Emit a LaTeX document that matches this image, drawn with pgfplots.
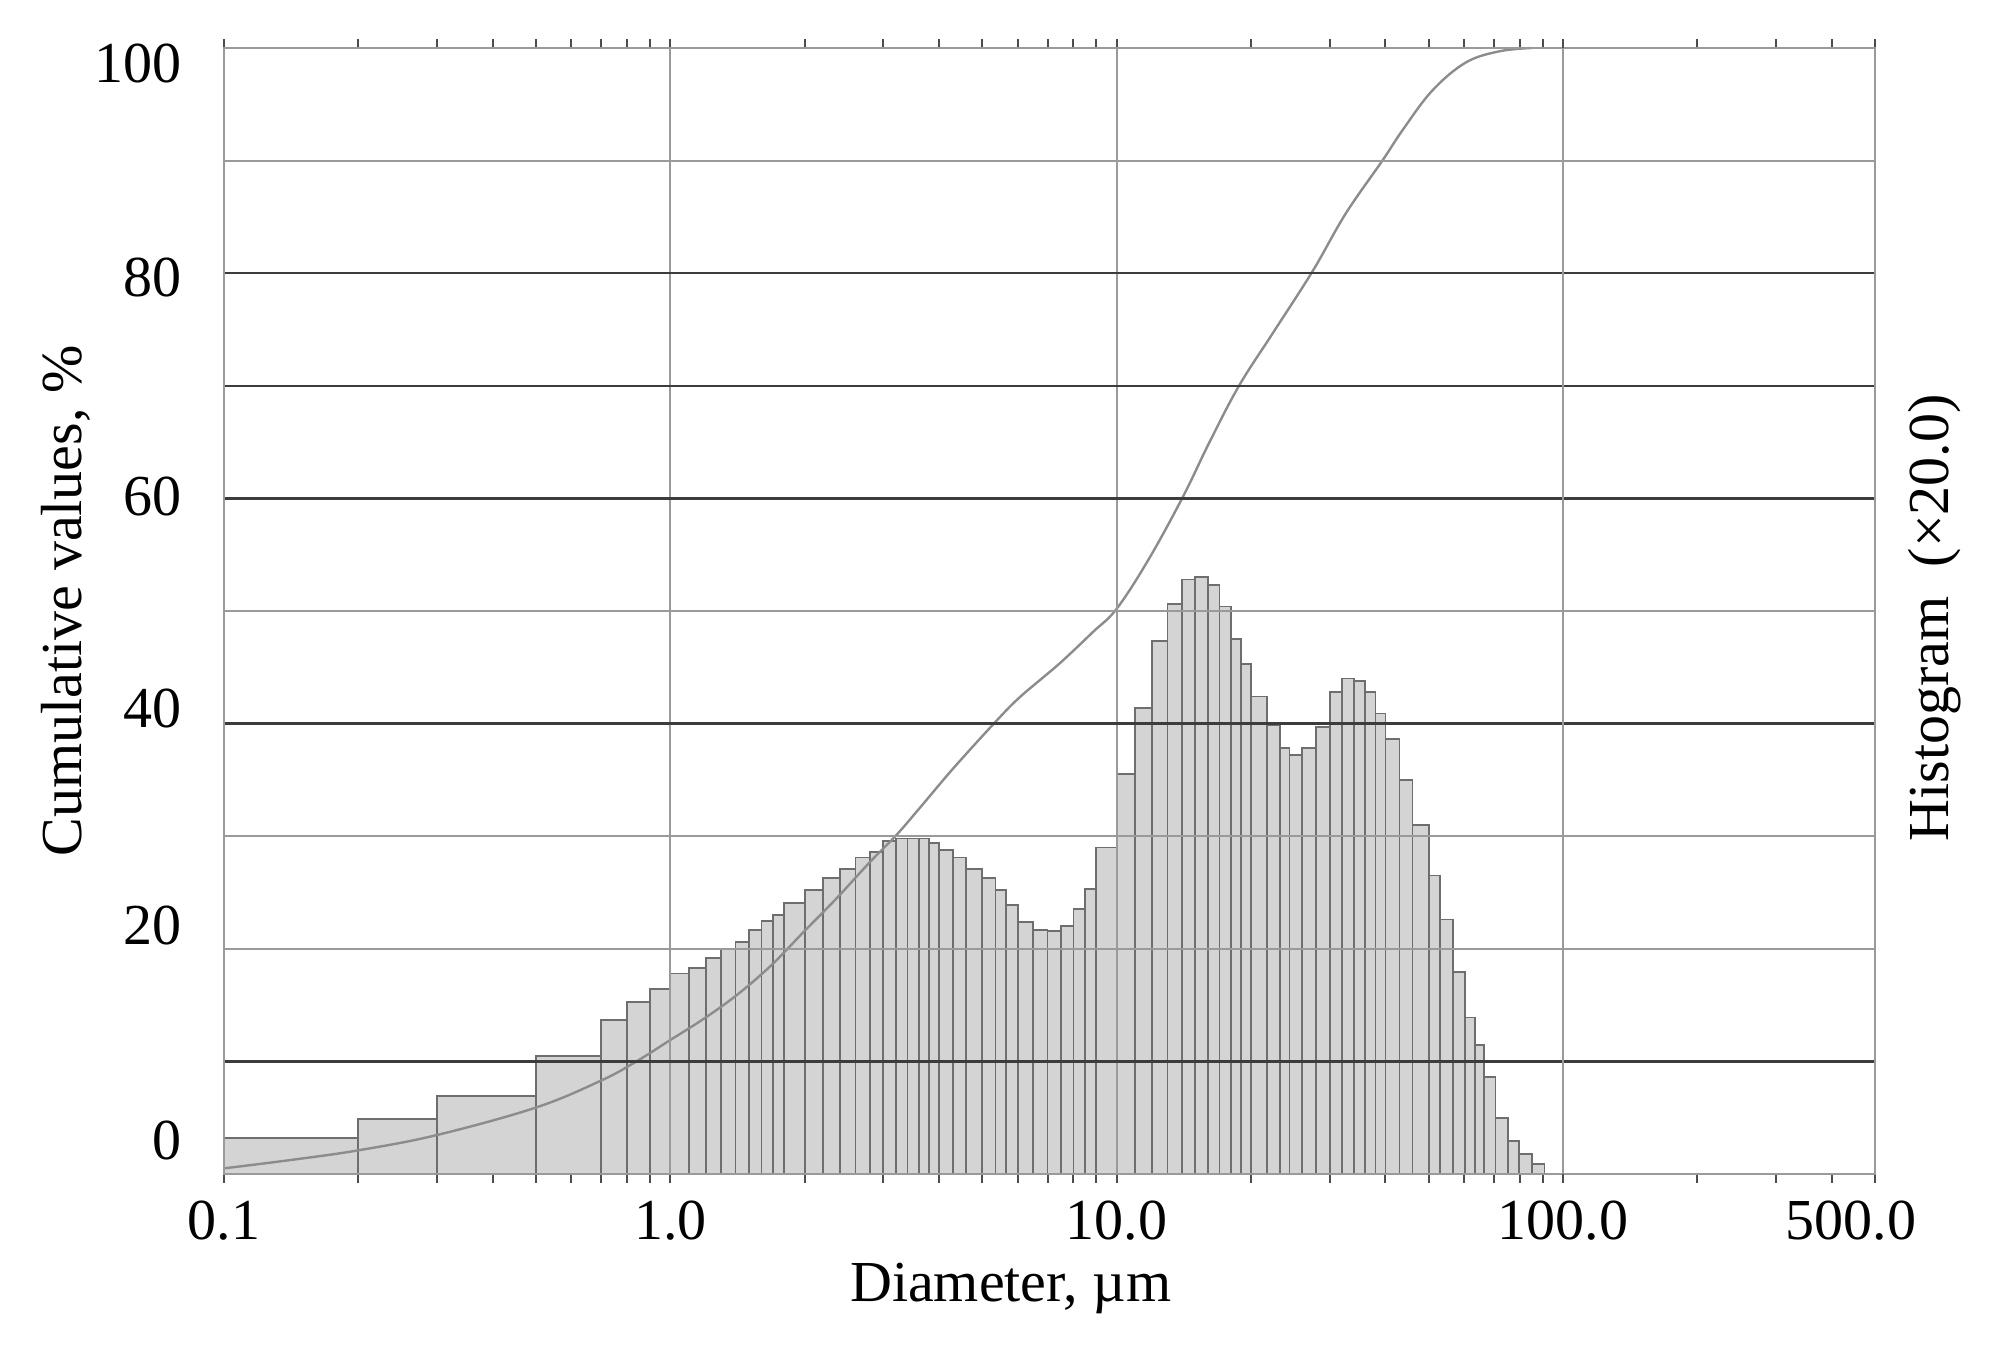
\documentclass[border=0pt]{standalone}
\usepackage{pgfplots}
\pgfplotsset{compat=1.18}
\usepackage{fontspec}
\setmainfont{Liberation Serif}
\definecolor{histfill}{HTML}{D4D4D4}
\definecolor{histedge}{HTML}{6E6E6E}
\definecolor{gridlight}{HTML}{9A9A9A}
\definecolor{griddark}{HTML}{3C3C3C}
\definecolor{framec}{HTML}{9A9A9A}
\definecolor{curvec}{HTML}{8C8C8C}
\pgfplotstableread{
x h
0.1 3.2
0.2 4.9
0.3 6.95
0.5 10.5
0.7 13.7
0.8 15.3
0.9 16.4
1.0 17.8
1.1 18.3
1.2 19.2
1.3 20.0
1.4 20.6
1.5 21.7
1.6 22.5
1.7 23.0
1.8 24.1
2.0 25.2
2.2 26.3
2.4 27.1
2.6 28.1
2.8 28.6
3.0 29.6
3.2 29.8
3.4 29.8
3.6 29.8
3.8 29.4
4.0 28.8
4.3 28.1
4.6 27.1
5.0 26.3
5.35 25.2
5.65 23.9
6.0 22.4
6.5 21.7
7.0 21.6
7.5 22.0
8.0 23.5
8.5 25.3
9.0 29.0
10 35.5
11 41.4
12 47.3
13 50.6
14 52.8
15 53.0
16 52.3
17 50.4
18 47.5
19 45.3
20 42.4
21.7 39.9
23.2 37.8
24.4 37.2
26 37.8
28 39.7
30 42.8
32 44.0
34 43.8
36 42.8
38 40.9
40 38.6
43 35.0
46 31.0
50 26.5
53 22.6
56.7 17.95
60.4 13.9
63.4 11.45
66.5 8.6
70.6 5.0
75.3 2.9
79.8 1.8
85.2 0.87
90.9 0
}\histdata
\pgfplotstableread{
x c
0.1 0.5
0.141 1.24
0.2 2.1
0.3 3.46
0.5 5.9
0.7 8.3
0.84 10.0
1.0 11.9
1.19 13.8
1.41 15.9
1.68 18.5
1.99 21.5
2.36 24.5
2.80 27.7
3.21 30.1
3.62 32.5
4.30 36.0
5.28 39.9
6.05 42.3
7.43 45.3
8.83 48.1
10.0 50.2
11.8 54.6
14.1 60.2
16.1 64.9
18.8 70.0
22.4 74.7
27.5 80.2
32.6 85.3
39.4 90.0
43.7 92.7
50.9 96.2
60.5 98.7
71.9 99.7
85 100
}\cumdata
\begin{document}
\begin{tikzpicture}
\useasboundingbox (-56pt,-43pt) rectangle (443pt,293.5pt);
\begin{axis}[
  at={(0,0)}, anchor=south west,
  scale only axis, width=412.75pt, height=281.5pt,
  xmode=log, log basis x=10,
  xmin=0.1, xmax=500, ymin=0, ymax=100,
  clip=false,
  axis on top,
  axis line style={draw=framec, line width=0.5pt},
  /pgf/number format/assume math mode=true,
  tick label style={font=\fontsize{14.5}{17}\selectfont, text=black},
  label style={font=\fontsize{14.5}{17}\selectfont},
  xtick={0.1,1,10,500},
  xticklabels={0.1,1.0,10.0,{\hspace*{-12pt}500.0}},
  extra x ticks={100},
  extra x tick labels={100.0},
  extra x tick style={grid=major, major grid style={draw=griddark, line width=0.6pt}},
  minor xtick={0.2,0.3,0.4,0.5,0.6,0.7,0.8,0.9,2,3,4,5,6,7,8,9,20,30,40,50,60,70,80,90,200,300,400},
  xmajorgrids,
  major x grid style={draw=gridlight, line width=0.5pt},
  x tick style={draw=black!70, line width=0.5pt},
  tick align=outside, major tick length=2.2pt, minor tick length=2.2pt,
  xticklabel style={yshift=-1pt},
  ytick={20,30,50,90},
  yticklabels={},
  minor ytick={10,40,60,70,80},
  ymajorgrids, yminorgrids,
  major y grid style={draw=gridlight, line width=0.5pt},
  minor y grid style={draw=griddark, line width=0.6pt},
  y tick style={draw=none},
  extra y ticks={3.0,22.1,41.3,60.2,79.6,98.6},
  extra y tick labels={0,20,40,60,80,100},
  extra y tick style={grid=none},
  yticklabel style={xshift=-5pt},
  xlabel={Diameter, µm},
  xlabel style={at={(axis description cs:0.4765,-0.102)}, anchor=center},
  ylabel={Cumulative values, \%},
  ylabel style={at={(axis description cs:-0.0957,0.509)}, anchor=center},
]
\addplot[ybar interval, fill=histfill, draw=histedge, line width=0.45pt] table[x=x, y=h] {\histdata};
\addplot[curvec, line width=0.6pt, mark=none, smooth, tension=0.6] table[x=x, y=c] {\cumdata};
\node[rotate=90, anchor=center, font=\fontsize{14.5}{17}\selectfont] at (axis description cs:1.036,0.494) {Histogram\ \ (×20.0)};
\end{axis}
\end{tikzpicture}
\end{document}
